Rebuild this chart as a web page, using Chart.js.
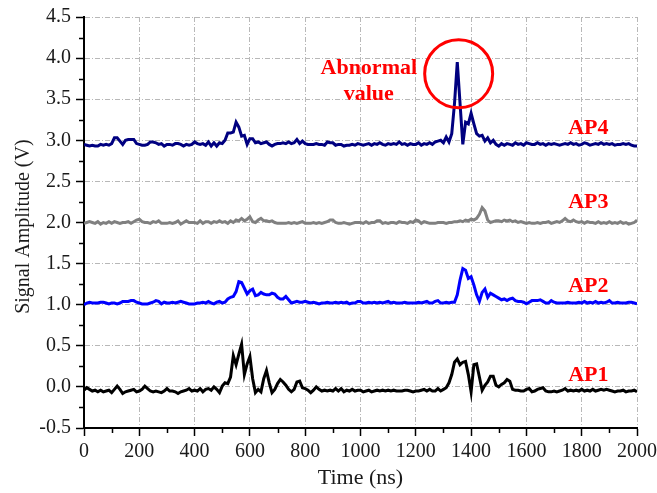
<!DOCTYPE html>
<html>
<head>
<meta charset="utf-8">
<script src="https://cdn.jsdelivr.net/npm/chart.js@4/dist/chart.umd.min.js"></script>
<style>
html,body{margin:0;padding:0;background:#fff;}
#wrap{width:657px;height:493px;}
</style>
</head>
<body>
<div id="wrap"><canvas id="c" width="657" height="493"></canvas></div>
<script>
// sample times (ns), every 10 ns from 0 to 2000
const times = Array.from({length: 201}, (_, i) => i * 10);

const xTicks = [0, 200, 400, 600, 800, 1000, 1200, 1400, 1600, 1800, 2000];
const yTicks = [-0.5, 0.0, 0.5, 1.0, 1.5, 2.0, 2.5, 3.0, 3.5, 4.0, 4.5];

const ap4 = [
 2.95, 2.94, 2.93, 2.94, 2.93, 2.93, 2.95, 2.94, 2.95, 2.94,
 2.96, 3.03, 3.03, 2.99, 2.95, 3.00, 3.01, 3.01, 3.01, 2.96,
 2.95, 2.94, 2.94, 2.95, 2.98, 2.98, 2.97, 2.95, 2.96, 2.93,
 2.95, 2.95, 2.94, 2.96, 2.96, 2.95, 2.93, 2.95, 2.94, 2.95,
 2.98, 2.96, 2.95, 2.96, 2.94, 2.98, 2.93, 2.97, 2.93, 2.97,
 2.96, 3.00, 3.09, 3.09, 3.10, 3.22, 3.16, 3.05, 3.06, 2.95,
 3.02, 3.02, 2.97, 2.98, 2.96, 2.97, 2.98, 2.95, 2.93, 2.95,
 2.96, 2.96, 2.97, 2.96, 2.98, 2.96, 2.97, 3.01, 2.96, 2.99,
 2.96, 2.95, 2.95, 2.95, 2.96, 2.95, 2.95, 2.94, 2.98, 2.97,
 2.97, 2.94, 2.95, 2.95, 2.93, 2.94, 2.94, 2.95, 2.94, 2.96,
 2.95, 2.94, 2.95, 2.96, 2.94, 2.96, 2.95, 2.97, 2.95, 2.94,
 2.96, 2.95, 2.96, 2.95, 2.98, 2.95, 2.96, 2.94, 2.96, 2.95,
 2.95, 2.97, 2.94, 2.96, 2.95, 2.97, 2.95, 2.98, 2.99, 3.00,
 2.97, 3.04, 2.98, 3.08, 3.45, 3.95, 3.45, 2.95, 3.22, 3.20,
 3.33, 3.20, 3.08, 3.05, 3.06, 2.99, 3.03, 2.97, 3.00, 2.95,
 2.93, 2.96, 2.94, 2.96, 2.95, 2.94, 2.97, 2.95, 2.96, 2.94,
 2.97, 2.96, 2.95, 2.95, 2.97, 2.95, 2.96, 2.94, 2.96, 2.95,
 2.96, 2.95, 2.94, 2.95, 2.96, 2.95, 2.97, 2.95, 2.96, 2.94,
 2.95, 2.97, 2.96, 2.94, 2.95, 2.96, 2.95, 2.97, 2.95, 2.96,
 2.95, 2.96, 2.94, 2.95, 2.95, 2.96, 2.95, 2.96, 2.94, 2.93,
 2.93
];

const ap3 = [
 1.99, 2.00, 2.01, 2.00, 1.99, 2.01, 1.98, 2.00, 1.99, 2.01,
 1.99, 2.01, 2.00, 1.99, 2.00, 2.00, 2.01, 1.99, 2.01, 2.03,
 2.04, 2.01, 2.00, 2.00, 1.99, 2.01, 2.00, 2.02, 1.99, 1.99,
 1.99, 2.00, 1.99, 2.00, 2.02, 1.98, 2.00, 2.02, 2.00, 2.00,
 2.00, 1.99, 2.02, 1.99, 2.01, 2.01, 1.99, 2.01, 2.00, 2.02,
 2.00, 2.01, 1.99, 2.02, 2.00, 2.03, 2.02, 2.05, 2.02, 2.04,
 2.07, 2.01, 2.00, 2.03, 2.05, 2.02, 2.02, 2.01, 2.02, 2.00,
 1.99, 1.99, 1.99, 1.99, 2.00, 1.99, 2.00, 1.99, 2.00, 2.01,
 1.99, 1.99, 1.99, 2.00, 1.99, 2.00, 1.99, 2.00, 2.01, 2.03,
 2.03, 2.00, 1.99, 1.99, 2.00, 1.99, 1.98, 1.99, 2.00, 2.00,
 2.00, 1.99, 2.01, 1.99, 2.00, 2.00, 2.02, 2.02, 1.99, 2.00,
 1.99, 2.00, 2.00, 1.99, 2.01, 2.00, 2.00, 1.99, 2.01, 2.00,
 2.03, 2.02, 1.99, 2.01, 2.00, 1.99, 1.99, 1.99, 2.00, 2.00,
 2.00, 1.99, 2.00, 2.00, 2.01, 2.01, 2.02, 2.01, 2.03, 2.02,
 2.04, 2.03, 2.05, 2.10, 2.18, 2.14, 2.03, 2.00, 2.01, 2.02,
 2.02, 2.01, 2.03, 2.02, 2.03, 2.01, 2.02, 2.00, 2.01, 2.00,
 1.99, 2.00, 1.99, 1.99, 2.00, 1.99, 2.00, 2.00, 2.01, 1.99,
 2.00, 2.01, 2.00, 2.02, 2.05, 2.02, 2.01, 2.03, 2.01, 2.00,
 2.01, 1.99, 2.01, 2.00, 2.00, 1.99, 2.01, 1.99, 2.00, 1.99,
 2.01, 1.99, 2.00, 1.99, 2.01, 1.99, 2.00, 1.98, 1.99, 2.00,
 2.03
];

const ap2 = [
 1.00, 1.02, 1.03, 1.02, 1.02, 1.02, 1.03, 1.03, 1.02, 1.01,
 1.02, 1.02, 1.01, 1.02, 1.04, 1.04, 1.04, 1.05, 1.05, 1.03,
 1.02, 1.01, 1.01, 1.01, 1.02, 1.03, 1.05, 1.04, 1.01, 1.03,
 1.02, 1.02, 1.03, 1.02, 1.03, 1.04, 1.03, 1.02, 1.01, 1.01,
 1.01, 1.02, 1.02, 1.03, 1.02, 1.04, 1.02, 1.01, 1.03, 1.04,
 1.02, 1.03, 1.07, 1.09, 1.10, 1.16, 1.28, 1.27, 1.20, 1.13,
 1.17, 1.19, 1.11, 1.12, 1.15, 1.13, 1.12, 1.12, 1.14, 1.13,
 1.09, 1.07, 1.07, 1.10, 1.06, 1.02, 1.03, 1.04, 1.03, 1.03,
 1.04, 1.03, 1.02, 1.03, 1.02, 1.01, 1.02, 1.02, 1.03, 1.02,
 1.02, 1.03, 1.02, 1.03, 1.02, 1.03, 1.01, 1.02, 1.02, 1.04,
 1.04, 1.02, 1.02, 1.03, 1.02, 1.03, 1.02, 1.03, 1.02, 1.03,
 1.04, 1.02, 1.03, 1.02, 1.02, 1.02, 1.03, 1.02, 1.02, 1.02,
 1.02, 1.03, 1.02, 1.03, 1.04, 1.02, 1.02, 1.04, 1.05, 1.02,
 1.02, 1.03, 1.02, 1.03, 1.03, 1.12, 1.30, 1.44, 1.42, 1.32,
 1.34, 1.24, 1.12, 1.04, 1.15, 1.19, 1.09, 1.14, 1.12, 1.10,
 1.08, 1.06, 1.07, 1.05, 1.07, 1.08, 1.05, 1.04, 1.04, 1.03,
 1.01, 1.03, 1.05, 1.05, 1.05, 1.06, 1.04, 1.02, 1.02, 1.05,
 1.03, 1.02, 1.02, 1.02, 1.02, 1.03, 1.02, 1.02, 1.02, 1.03,
 1.02, 1.04, 1.02, 1.03, 1.02, 1.04, 1.02, 1.03, 1.02, 1.03,
 1.05, 1.02, 1.02, 1.03, 1.02, 1.02, 1.02, 1.03, 1.03, 1.02,
 1.01
];

const ap1 = [
 -0.04, -0.01, -0.03, -0.05, -0.04, -0.06, -0.04, -0.06, -0.05, -0.04,
 -0.07, -0.03, 0.01, -0.03, -0.08, -0.06, -0.05, -0.04, -0.03, -0.06,
 -0.05, -0.03, 0.01, -0.02, -0.05, -0.06, -0.05, -0.06, -0.07, -0.05,
 -0.02, -0.05, -0.05, -0.06, -0.08, -0.06, -0.05, -0.04, -0.02, -0.05,
 -0.04, -0.05, -0.02, -0.06, -0.03, -0.02, -0.04, 0.00, -0.03, -0.07,
 0.01, 0.05, 0.04, 0.12, 0.38, 0.27, 0.40, 0.52, 0.15, 0.28,
 0.37, 0.10, -0.07, -0.03, -0.06, 0.10, 0.20, 0.05, -0.07, -0.03,
 0.04, 0.09, 0.06, 0.02, -0.03, -0.06, -0.03, 0.06, 0.07, -0.01,
 -0.02, -0.04, -0.07, -0.04, 0.00, -0.03, -0.05, -0.04, -0.05, -0.04,
 -0.05, -0.02, -0.05, -0.02, -0.06, -0.04, -0.05, -0.03, -0.05, -0.04,
 -0.04, -0.06, -0.05, -0.04, -0.06, -0.05, -0.04, -0.05, -0.04, -0.05,
 -0.04, -0.05, -0.04, -0.05, -0.05, -0.05, -0.04, -0.04, -0.05, -0.06,
 -0.05, -0.05, -0.04, -0.03, -0.05, -0.03, -0.05, -0.05, -0.02, -0.05,
 -0.03, -0.01, 0.05, 0.15, 0.30, 0.34, 0.27, 0.30, 0.31, 0.15,
 -0.06, 0.27, 0.28, 0.12, -0.04, 0.02, 0.06, 0.13, 0.13, 0.02,
 0.00, 0.03, 0.05, 0.09, 0.07, -0.03, -0.04, -0.04, -0.05, -0.05,
 -0.03, -0.02, -0.06, -0.05, -0.03, -0.02, -0.01, -0.05, -0.06, -0.06,
 -0.05, -0.06, -0.05, -0.04, -0.02, -0.05, -0.04, -0.05, -0.04, -0.05,
 -0.03, -0.05, -0.04, -0.05, -0.03, -0.05, -0.04, -0.03, -0.04, -0.03,
 -0.04, -0.05, -0.06, -0.05, -0.05, -0.04, -0.06, -0.05, -0.05, -0.04,
 -0.06
];

const seriesNames = ['AP1', 'AP2', 'AP3', 'AP4'];
const seriesColors = ['#000000', '#0000ff', '#808080', '#000080'];
const seriesValues = [ap1, ap2, ap3, ap4];

const xTitle = 'Time (ns)';
const yTitle = 'Signal Amplitude (V)';

// text annotations (data coordinates)
const labelPos = {AP4: [1824, 3.14], AP3: [1824, 2.24], AP2: [1824, 1.22], AP1: [1824, 0.135]};
const noteText = ['Abnormal', 'value'];
const notePos = [1030, 3.72];
const circlePos = [1355, 3.81];

const serif = "'Liberation Serif', 'Times New Roman', serif";

const decor = {
  id: 'decor',
  beforeDatasetsDraw(chart) {
    const ctx = chart.ctx, xs = chart.scales.x, ys = chart.scales.y, ca = chart.chartArea;
    ctx.save();
    ctx.strokeStyle = '#000';
    ctx.lineWidth = 1.5;
    ctx.beginPath();
    for (let v = 100; v < 2000; v += 200) {
      const px = Math.round(xs.getPixelForValue(v)) + 0.5;
      ctx.moveTo(px, ca.bottom);
      ctx.lineTo(px, ca.bottom + 5);
    }
    for (let v = -0.25; v < 4.5; v += 0.5) {
      const py = Math.round(ys.getPixelForValue(v)) + 0.5;
      ctx.moveTo(ca.left, py);
      ctx.lineTo(ca.left - 5, py);
    }
    ctx.stroke();
    // y axis title
    ctx.fillStyle = '#1a1a1a';
    ctx.font = '20px ' + serif;
    ctx.textAlign = 'center';
    ctx.textBaseline = 'middle';
    ctx.translate(23.5, ys.getPixelForValue(1.95));
    ctx.rotate(-Math.PI / 2);
    ctx.fillText(yTitle, 0, 0);
    ctx.restore();
  },
  afterDatasetsDraw(chart) {
    const ctx = chart.ctx, xs = chart.scales.x, ys = chart.scales.y;
    ctx.save();
    ctx.fillStyle = '#ff0000';
    ctx.font = 'bold 22px ' + serif;
    ctx.textAlign = 'center';
    ctx.textBaseline = 'middle';
    for (const name of seriesNames) {
      const p = labelPos[name];
      ctx.fillText(name, xs.getPixelForValue(p[0]), ys.getPixelForValue(p[1]));
    }
    const nx = xs.getPixelForValue(notePos[0]), ny = ys.getPixelForValue(notePos[1]);
    ctx.fillText(noteText[0], nx, ny - 13);
    ctx.fillText(noteText[1], nx, ny + 13);
    ctx.strokeStyle = '#ff0000';
    ctx.lineWidth = 3;
    ctx.beginPath();
    ctx.arc(xs.getPixelForValue(circlePos[0]), ys.getPixelForValue(circlePos[1]), 34, 0, Math.PI * 2);
    ctx.stroke();
    ctx.restore();
  }
};

const datasets = seriesNames.map((n, k) => ({
  label: n,
  data: times.map((t, i) => ({x: t, y: seriesValues[k][i]})),
  borderColor: seriesColors[k],
  backgroundColor: seriesColors[k],
  borderWidth: 3,
  pointRadius: 0,
  tension: 0,
  fill: false
}));

const gridOpts = {
  color: '#b8b8b8',
  lineWidth: 1,
  drawTicks: true,
  tickLength: 8,
  tickColor: '#000',
  tickWidth: 1.5,
  tickBorderDash: []
};
const borderOpts = {display: true, color: '#000', width: 2, dash: [5, 2, 1, 2]};

new Chart(document.getElementById('c'), {
  type: 'line',
  data: {datasets},
  options: {
    responsive: false,
    animation: false,
    devicePixelRatio: 1,
    layout: {padding: {top: 16, right: 0, left: 0, bottom: 0}},
    plugins: {legend: {display: false}, tooltip: {enabled: false}},
    scales: {
      x: {
        type: 'linear',
        min: 0, max: 2000,
        afterFit(s) { s.height = 65; s.paddingRight = 20; s.paddingLeft = 0; },
        afterBuildTicks(s) { s.ticks = xTicks.map(v => ({value: v})); },
        ticks: {font: {family: serif, size: 20}, color: '#1a1a1a', padding: 4, maxRotation: 0,
                callback: v => String(v)},
        grid: gridOpts,
        border: borderOpts,
        title: {display: true, text: xTitle, font: {family: serif, size: 22}, color: '#1a1a1a',
                padding: {top: 0, bottom: 2}}
      },
      y: {
        type: 'linear',
        min: -0.5, max: 4.5,
        afterFit(s) { s.width = 84; },
        afterBuildTicks(s) { s.ticks = yTicks.map(v => ({value: v})); },
        ticks: {font: {family: serif, size: 20}, color: '#1a1a1a', padding: 5,
                callback: v => Number(v).toFixed(1)},
        grid: gridOpts,
        border: borderOpts,
        title: {display: false, text: yTitle}
      }
    }
  },
  plugins: [decor]
});
</script>
</body>
</html>
